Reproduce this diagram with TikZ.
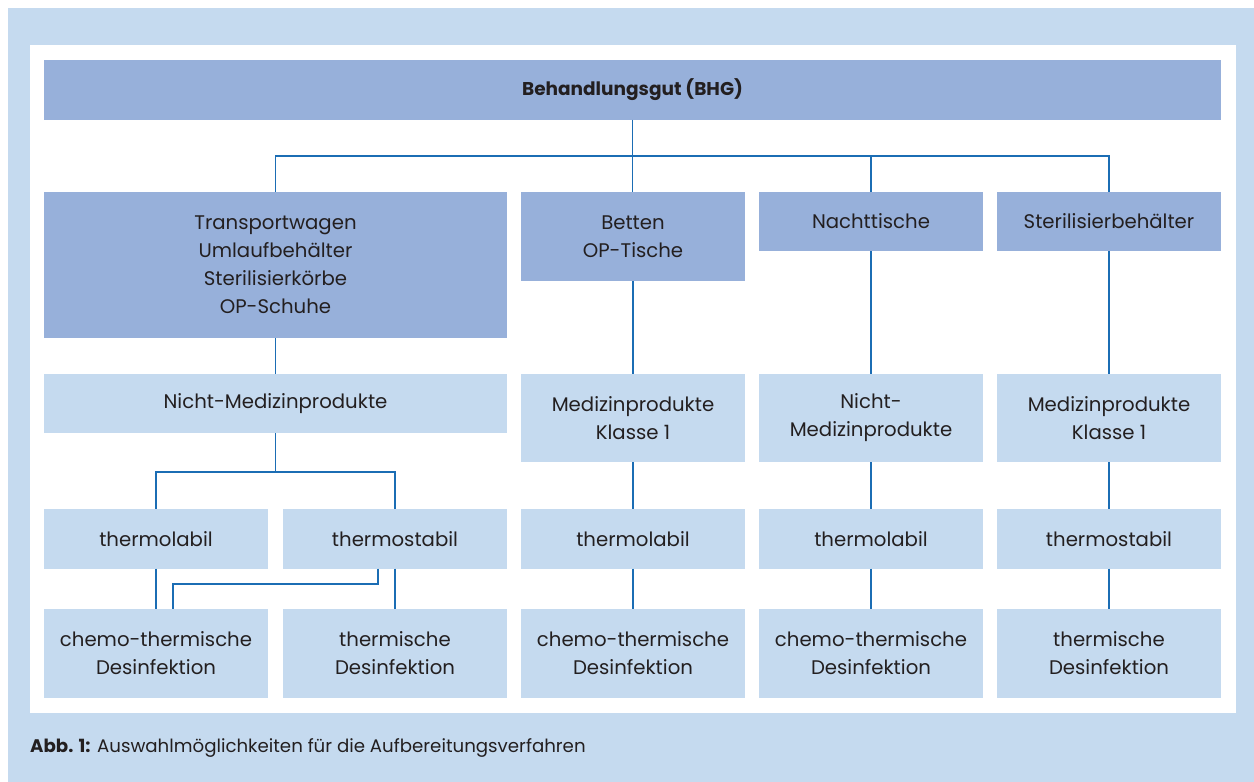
\documentclass[tikz,border=0pt]{standalone}
\usepackage{fontspec}
\setmainfont{Poppins}
\definecolor{bgblue}{HTML}{C5DAEF}
\definecolor{darkbox}{HTML}{97B0DA}
\definecolor{lightbox}{HTML}{C5DAEF}
\definecolor{linecol}{HTML}{1B6DB4}
\definecolor{txt}{HTML}{231F20}
\begin{document}
\begin{tikzpicture}[x=1pt,y=-1pt,
  box/.style={inner sep=0pt, align=center, text=txt, font=\fontsize{19.7}{28}\selectfont},
  dbox/.style={box, fill=darkbox},
  lbox/.style={box, fill=lightbox},
  conn/.style={draw=linecol, line width=1.6pt}]
\useasboundingbox (0,0) rectangle (1254,782);
\fill[bgblue] (8,8) rectangle (1254,782);
\fill[white] (30,45) rectangle (1236,713);
% top
\node[dbox, minimum width=1177pt, minimum height=59.5pt, font=\fontsize{18.5}{22}\selectfont\bfseries] (top) at (632.5,89.75) {Behandlungsgut (BHG)};
% row 1
\node[dbox, minimum width=463pt, minimum height=146pt] (r1a) at (275.5,265) {Transportwagen\\Umlaufbehälter\\Sterilisierkörbe\\OP-Schuhe};
\node[dbox, minimum width=224pt, minimum height=89pt] (r1b) at (633,236.5) {Betten\\OP-Tische};
\node[dbox, minimum width=224pt, minimum height=59pt] (r1c) at (871,221.5) {Nachttische};
\node[dbox, minimum width=224pt, minimum height=59pt] (r1d) at (1109,221.5) {Sterilisierbehälter};
% row 2
\node[lbox, minimum width=463pt, minimum height=59pt] (r2a) at (275.5,403.5) {Nicht-Medizinprodukte};
\node[lbox, minimum width=224pt, minimum height=88pt] (r2b) at (633,418) {Medizinprodukte\\Klasse 1};
\node[lbox, minimum width=224pt, minimum height=88pt] (r2c) at (871,418) {Nicht-\\Medizinprodukte};
\node[lbox, minimum width=224pt, minimum height=88pt] (r2d) at (1109,418) {Medizinprodukte\\Klasse 1};
% row 3
\node[lbox, minimum width=224pt, minimum height=59.5pt] (r3a) at (156,538.75) {thermolabil};
\node[lbox, minimum width=224pt, minimum height=59.5pt] (r3b) at (395,538.75) {thermostabil};
\node[lbox, minimum width=224pt, minimum height=59.5pt] (r3c) at (633,538.75) {thermolabil};
\node[lbox, minimum width=224pt, minimum height=59.5pt] (r3d) at (871,538.75) {thermolabil};
\node[lbox, minimum width=224pt, minimum height=59.5pt] (r3e) at (1109,538.75) {thermostabil};
% row 4
\node[lbox, minimum width=224pt, minimum height=88.5pt] (r4a) at (156,653.25) {chemo-thermische\\Desinfektion};
\node[lbox, minimum width=224pt, minimum height=88.5pt] (r4b) at (395,653.25) {thermische\\Desinfektion};
\node[lbox, minimum width=224pt, minimum height=88.5pt] (r4c) at (633,653.25) {chemo-thermische\\Desinfektion};
\node[lbox, minimum width=224pt, minimum height=88.5pt] (r4d) at (871,653.25) {chemo-thermische\\Desinfektion};
\node[lbox, minimum width=224pt, minimum height=88.5pt] (r4e) at (1109,653.25) {thermische\\Desinfektion};
% connectors
\draw[conn] (top.south) -- (top.south |- r1b.north);
\draw[conn] (r1a.north) -- ++(0,-36) -| (r1d.north);
\draw[conn] (r1c.north) -- ++(0,-36);
\draw[conn] (r1a.south) -- (r2a.north);
\draw[conn] (r1b.south) -- (r2b.north);
\draw[conn] (r1c.south) -- (r2c.north);
\draw[conn] (r1d.south) -- (r2d.north);
\draw[conn] (r2a.south) -- ++(0,38.5);
\draw[conn] (r3a.north) -- ++(0,-37) -| (r3b.north);
\draw[conn] (r2b.south) -- (r3c.north);
\draw[conn] (r2c.south) -- (r3d.north);
\draw[conn] (r2d.south) -- (r3e.north);
\draw[conn] (r3a.south) -- (r4a.north);
\draw[conn] (r3b.south) -- (r4b.north);
\draw[conn] ([xshift=-17pt]r3b.south) -- ++(0,15.5) -| ([xshift=17pt]r4a.north);
\draw[conn] (r3c.south) -- (r4c.north);
\draw[conn] (r3d.south) -- (r4d.north);
\draw[conn] (r3e.south) -- (r4e.north);
% caption
\node[anchor=base west, inner sep=0pt, text=txt, font=\fontsize{18.2}{20}\selectfont] (cap) at (30,752) {\textbf{Abb. 1:} Auswahlmöglichkeiten für die Aufbereitungsverfahren};
\end{tikzpicture}
\end{document}
